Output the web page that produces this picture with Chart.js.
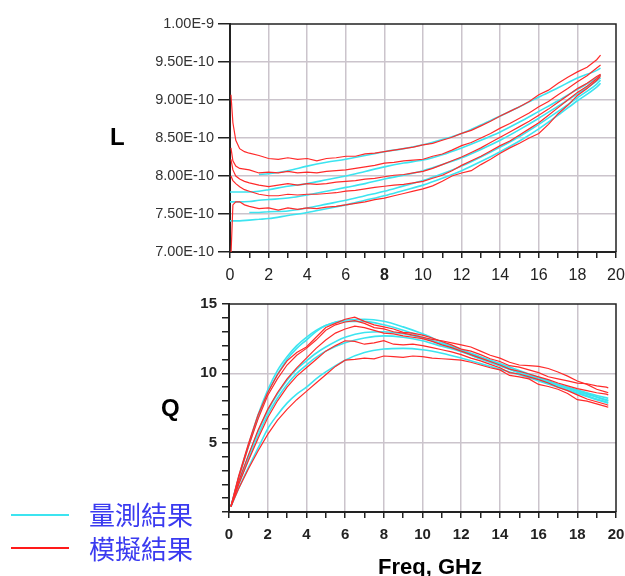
<!DOCTYPE html>
<html>
<head>
<meta charset="UTF-8">
<title>L / Q vs Freq</title>
<script src="https://cdn.jsdelivr.net/npm/chart.js"></script>
<style type="text/css">
	body { margin: 0; background: #fff; width: 625px; height: 576px; position: relative; overflow: hidden; }
	canvas { position: absolute; left: 0; }
	#chartL { top: 0; }
	#chartQ { top: 290px; }
	.lbl { position: absolute; font-family: "Liberation Sans", Arial, sans-serif; font-weight: bold; color: #000; white-space: nowrap; }
	.legLine { position: absolute; left: 11px; width: 58px; height: 2px; }
	.legText { position: absolute; left: 89px; font-family: "Noto Sans CJK TC", "Noto Sans CJK SC", sans-serif; font-size: 26px; line-height: 32px; color: #3a3af0; }
</style>
<script>
// L 圖 (單位 1E-10 H)
var fSimL = [0.05, 0.15, 0.3, 0.5, 0.75, 1, 1.5, 2, 2.5, 3, 3.5, 4, 4.5, 5, 5.5, 6, 6.5, 7, 7.5, 8, 8.5, 9, 9.5, 10,
	10.5, 11, 11.5, 12, 12.5, 13, 13.5, 14, 14.5, 15, 15.5, 16, 16.5, 17, 17.5, 18, 18.5, 19, 19.2];
var simL1 = [9.07, 8.70, 8.47, 8.36, 8.32, 8.30, 8.27, 8.23, 8.22, 8.24, 8.22, 8.23, 8.20, 8.23, 8.24, 8.26, 8.26, 8.29, 8.30, 8.32, 8.34, 8.36, 8.38, 8.41,
	8.43, 8.47, 8.51, 8.56, 8.60, 8.66, 8.72, 8.79, 8.85, 8.91, 8.98, 9.07, 9.13, 9.22, 9.30, 9.37, 9.43, 9.53, 9.59];
var simL2 = [8.37, 8.20, 8.13, 8.10, 8.09, 8.08, 8.04, 8.05, 8.04, 8.06, 8.04, 8.05, 8.04, 8.06, 8.07, 8.08, 8.10, 8.12, 8.14, 8.17, 8.18, 8.20, 8.21, 8.22,
	8.26, 8.29, 8.34, 8.40, 8.44, 8.50, 8.56, 8.63, 8.69, 8.76, 8.83, 8.91, 8.98, 9.07, 9.15, 9.24, 9.32, 9.42, 9.46];
var simL3 = [8.22, 8.08, 8.00, 7.96, 7.93, 7.91, 7.88, 7.86, 7.88, 7.90, 7.88, 7.90, 7.89, 7.90, 7.92, 7.93, 7.94, 7.96, 7.97, 7.99, 8.01, 8.02, 8.04, 8.06,
	8.10, 8.15, 8.20, 8.25, 8.31, 8.37, 8.44, 8.51, 8.58, 8.65, 8.72, 8.80, 8.88, 8.97, 9.06, 9.15, 9.22, 9.31, 9.34];
var simL4 = [8.00, 7.94, 7.90, 7.86, 7.82, 7.80, 7.76, 7.74, 7.74, 7.76, 7.75, 7.76, 7.76, 7.77, 7.78, 7.80, 7.81, 7.83, 7.85, 7.865, 7.88, 7.89, 7.91, 7.93,
	7.97, 8.01, 8.07, 8.14, 8.20, 8.26, 8.33, 8.40, 8.46, 8.54, 8.62, 8.70, 8.80, 8.90, 9.00, 9.10, 9.18, 9.28, 9.33];
var simL5 = [6.95, 7.62, 7.66, 7.66, 7.62, 7.60, 7.57, 7.58, 7.55, 7.58, 7.56, 7.58, 7.57, 7.59, 7.60, 7.62, 7.64, 7.66, 7.69, 7.71, 7.74, 7.77, 7.80, 7.83,
	7.87, 7.93, 8.00, 8.04, 8.07, 8.15, 8.22, 8.30, 8.37, 8.43, 8.50, 8.56, 8.68, 8.82, 8.93, 9.06, 9.15, 9.26, 9.31];

var fMeasL = [0, 0.5, 1, 1.5, 2, 3, 4, 5, 6, 7, 8, 9, 10, 11, 12, 13, 14, 15, 16, 17, 18, 19, 19.2];
var measL1 = [null, null, null, 8.02, 8.03, 8.07, 8.13, 8.18, 8.22, 8.27, 8.32, 8.36, 8.41, 8.48, 8.56, 8.67, 8.79, 8.91, 9.04, 9.16, 9.29, 9.39, 9.42];
var measL2 = [7.79, 7.79, 7.79, 7.80, 7.82, 7.865, 7.90, 7.95, 8.00, 8.06, 8.12, 8.17, 8.21, 8.28, 8.37, 8.47, 8.58, 8.71, 8.85, 8.99, 9.14, 9.29, 9.33];
var measL3 = [7.66, 7.66, 7.665, 7.68, 7.69, 7.71, 7.75, 7.80, 7.85, 7.90, 7.96, 8.01, 8.07, 8.15, 8.24, 8.35, 8.47, 8.61, 8.76, 8.92, 9.08, 9.25, 9.29];
var measL4 = [null, null, 7.52, 7.52, 7.53, 7.54, 7.58, 7.63, 7.68, 7.74, 7.80, 7.87, 7.94, 8.03, 8.13, 8.25, 8.38, 8.52, 8.68, 8.85, 9.03, 9.21, 9.26];
var measL5 = [7.41, 7.41, 7.42, 7.43, 7.44, 7.48, 7.52, 7.57, 7.62, 7.68, 7.74, 7.81, 7.88, 7.97, 8.07, 8.19, 8.32, 8.46, 8.62, 8.80, 8.99, 9.17, 9.22];

// Q 圖
var fSimQ = [0.1, 0.5, 1, 1.5, 2, 2.5, 3, 3.5, 4, 4.5, 5, 5.5, 6, 6.5, 7, 7.5, 8, 8.5, 9, 9.5, 10,
	10.5, 11, 11.5, 12, 12.5, 13, 13.5, 14, 14.5, 15, 15.5, 16, 16.5, 17, 17.5, 18, 18.5, 19, 19.5, 19.6];
var simQ1 = [0.4, 2.6, 4.9, 7.0, 8.6, 9.9, 10.9, 11.5, 11.9, 12.6, 13.3, 13.6, 13.9, 14.05, 13.75, 13.5, 13.35, 13.2, 12.95, 12.9, 12.75,
	12.55, 12.3, 12.05, 11.75, 11.6, 11.35, 11.05, 10.85, 10.55, 10.45, 10.25, 10.05, 9.75, 9.6, 9.45, 9.3, 9.25, 9.1, 9.0, 8.95];
var simQ2 = [0.4, 2.5, 4.7, 6.7, 8.4, 9.6, 10.6, 11.3, 11.8, 12.4, 13.1, 13.5, 13.7, 13.8, 13.6, 13.3, 13.2, 13.0, 12.9, 12.75, 12.6,
	12.45, 12.35, 12.2, 12.05, 11.9, 11.6, 11.3, 11.1, 10.8, 10.6, 10.55, 10.5, 10.35, 10.1, 9.8, 9.45, 9.2, 8.85, 8.65, 8.6];
var simQ3 = [0.4, 2.2, 4.1, 5.9, 7.4, 8.6, 9.6, 10.4, 11.1, 11.8, 12.4, 12.9, 13.2, 13.4, 13.3, 13.1, 12.9, 12.85, 12.7, 12.6, 12.5,
	12.3, 12.05, 11.85, 11.6, 11.35, 11.1, 10.85, 10.6, 10.3, 10.15, 9.95, 9.75, 9.55, 9.3, 9.1, 8.9, 8.75, 8.6, 8.5, 8.45];
var simQ4 = [0.4, 2.0, 3.7, 5.3, 6.8, 8.0, 9.0, 9.8, 10.4, 11.0, 11.6, 12.0, 12.35, 12.3, 12.1, 12.2, 12.35, 12.1, 12.05, 12.1, 12.0,
	11.85, 11.7, 11.55, 11.35, 11.1, 10.9, 10.65, 10.4, 10.05, 9.95, 9.75, 9.55, 9.3, 9.0, 8.75, 8.45, 8.15, 7.95, 7.75, 7.7];
var simQ5 = [0.4, 1.7, 3.1, 4.4, 5.6, 6.6, 7.4, 8.1, 8.7, 9.3, 9.9, 10.5, 10.95, 11.0, 11.1, 11.05, 11.25, 11.2, 11.15, 11.25, 11.2,
	11.1, 11.05, 11.0, 10.95, 10.8, 10.6, 10.4, 10.25, 9.85, 9.75, 9.6, 9.2, 9.05, 8.85, 8.55, 8.1, 8.0, 7.8, 7.6, 7.55];

var fMeasQ = [0.1, 0.5, 1, 1.5, 2, 2.5, 3, 3.5, 4, 4.5, 5, 6, 7, 8, 9, 10, 11, 12, 13, 14, 15, 16, 17, 18, 19, 19.6];
var measQ1 = [0.4, 2.4, 4.7, 6.8, 8.6, 9.9, 11.0, 11.8, 12.4, 13.0, 13.45, 13.85, 13.9, 13.75, 13.35, 12.85, 12.25, 11.7, 11.15, 10.6, 10.1, 9.65, 9.2, 8.8, 8.4, 8.2];
var measQ2 = [0.4, 2.5, 4.8, 7.0, 8.8, 10.2, 11.2, 12.0, 12.6, 13.1, 13.45, 13.75, 13.75, 13.5, 13.1, 12.6, 12.1, 11.6, 11.05, 10.55, 10.05, 9.6, 9.15, 8.7, 8.3, 8.05];
var measQ3 = [0.4, 2.1, 4.0, 5.8, 7.3, 8.5, 9.5, 10.3, 10.9, 11.45, 11.9, 12.6, 12.95, 13.0, 12.85, 12.55, 12.15, 11.7, 11.2, 10.7, 10.2, 9.7, 9.2, 8.75, 8.3, 8.0];
var measQ4 = [0.4, 2.0, 3.8, 5.5, 7.0, 8.2, 9.2, 10.0, 10.6, 11.15, 11.6, 12.2, 12.55, 12.7, 12.6, 12.35, 11.95, 11.55, 11.05, 10.55, 10.05, 9.55, 9.05, 8.6, 8.15, 7.9];
var measQ5 = [0.4, 1.7, 3.2, 4.6, 6.0, 7.0, 7.85, 8.5, 9.0, 9.6, 10.1, 10.95, 11.5, 11.75, 11.8, 11.7, 11.45, 11.1, 10.7, 10.3, 9.9, 9.45, 9.0, 8.55, 8.1, 7.85];

var CYAN = '#3ce4f0';
var RED = '#ff2a2a';
var GRID = '#cbc4cc';
var AXIS = '#222';

function pts(xs, ys) {
	return xs.map(function(x, i) { return { x: x, y: ys[i] }; });
}
function meas(xs, ys) {
	return { data: pts(xs, ys), borderColor: CYAN, borderWidth: 1.6, cubicInterpolationMode: 'monotone', spanGaps: false, order: 2 };
}
function sim(xs, ys) {
	return { data: pts(xs, ys), borderColor: RED, borderWidth: 1.2, tension: 0, order: 1 };
}

// 外框 (上、右)
var frame = {
	id: 'frame',
	afterDatasetsDraw: function(chart) {
		var a = chart.chartArea, c = chart.ctx;
		c.save();
		c.strokeStyle = AXIS;
		c.lineWidth = 1.5;
		c.beginPath();
		c.moveTo(a.left, a.top);
		c.lineTo(a.right, a.top);
		c.lineTo(a.right, a.bottom);
		c.stroke();
		c.restore();
	}
};

var baseOpts = {
	responsive: false,
	animation: false,
	plugins: { legend: { display: false }, tooltip: { enabled: false } },
	elements: { point: { radius: 0 } }
};

window.onload = function() {
	var fontFam = '"Liberation Sans", Arial, sans-serif';

	new Chart(document.getElementById('chartL'), {
		type: 'line',
		data: {
			datasets: [
				meas(fMeasL, measL1), meas(fMeasL, measL2), meas(fMeasL, measL3), meas(fMeasL, measL4), meas(fMeasL, measL5),
				sim(fSimL, simL1), sim(fSimL, simL2), sim(fSimL, simL3), sim(fSimL, simL4), sim(fSimL, simL5)
			]
		},
		options: Object.assign({}, baseOpts, {
			layout: { padding: { left: 150, right: 9, top: 24, bottom: 0 } },
			scales: {
				x: {
					type: 'linear', min: 0, max: 20,
					afterFit: function(s) { s.height = 38; s.paddingLeft = 0; s.paddingRight = 0; },
					ticks: {
						stepSize: 1, autoSkip: false, maxRotation: 0, padding: 8, color: '#222',
						font: function(ctx) { return { family: fontFam, size: 16, weight: (ctx.tick && ctx.tick.value === 8) ? 'bold' : 'normal' }; },
						callback: function(v) { return v % 2 === 0 ? v : ''; }
					},
					grid: {
						tickLength: 6, tickColor: AXIS, lineWidth: 1.5,
						color: function(ctx) { return (ctx.tick && ctx.tick.value % 2 === 0 && ctx.tick.value > 0 && ctx.tick.value < 20) ? GRID : 'rgba(0,0,0,0)'; }
					},
					border: { color: AXIS, width: 2 }
				},
				y: {
					min: 7, max: 10,
					afterFit: function(s) { s.width = 80; },
					ticks: {
						stepSize: 0.5, padding: 4, color: '#333',
						font: { family: fontFam, size: 14.5 },
						callback: function(v) { return v === 10 ? '1.00E-9' : v.toFixed(2) + 'E-10'; }
					},
					grid: {
						tickLength: 12, tickColor: AXIS, lineWidth: 1.5,
						color: function(ctx) { return (ctx.tick && ctx.tick.value > 7 && ctx.tick.value < 10) ? GRID : 'rgba(0,0,0,0)'; }
					},
					border: { color: AXIS, width: 2 }
				}
			}
		}),
		plugins: [frame]
	});

	new Chart(document.getElementById('chartQ'), {
		type: 'line',
		data: {
			datasets: [
				meas(fMeasQ, measQ1), meas(fMeasQ, measQ2), meas(fMeasQ, measQ3), meas(fMeasQ, measQ4), meas(fMeasQ, measQ5),
				sim(fSimQ, simQ1), sim(fSimQ, simQ2), sim(fSimQ, simQ3), sim(fSimQ, simQ4), sim(fSimQ, simQ5)
			]
		},
		options: Object.assign({}, baseOpts, {
			layout: { padding: { left: 150, right: 9, top: 7, bottom: 0 } },
			scales: {
				x: {
					type: 'linear', min: 0, max: 20,
					afterFit: function(s) { s.height = 64; s.paddingLeft = 0; s.paddingRight = 0; },
					ticks: {
						stepSize: 1, autoSkip: false, maxRotation: 0, padding: 8, color: '#222',
						font: { family: fontFam, size: 15, weight: 'bold' },
						callback: function(v) { return v % 2 === 0 ? v : ''; }
					},
					grid: {
						tickLength: 6, tickColor: AXIS, lineWidth: 1.5,
						color: function(ctx) { return (ctx.tick && ctx.tick.value % 2 === 0 && ctx.tick.value > 0 && ctx.tick.value < 20) ? GRID : 'rgba(0,0,0,0)'; }
					},
					border: { color: AXIS, width: 2 }
				},
				y: {
					min: 0, max: 15,
					afterFit: function(s) { s.width = 79; },
					ticks: {
						stepSize: 1, autoSkip: false, padding: 5, color: '#222',
						font: { family: fontFam, size: 15, weight: 'bold' },
						callback: function(v) { return (v % 5 === 0 && v > 0) ? v : ''; }
					},
					grid: {
						tickLength: 7, tickColor: AXIS, lineWidth: 1.5,
						color: function(ctx) { return (ctx.tick && ctx.tick.value % 5 === 0 && ctx.tick.value > 0 && ctx.tick.value < 15) ? GRID : 'rgba(0,0,0,0)'; }
					},
					border: { color: AXIS, width: 2 }
				}
			}
		}),
		plugins: [frame]
	});
};
</script>
</head>
<body>
	<canvas id="chartL" width="625" height="290"></canvas>
	<canvas id="chartQ" width="625" height="286"></canvas>

	<div class="lbl" style="left:110px; top:123px; font-size:24px; line-height:28px;">L</div>
	<div class="lbl" style="left:161px; top:394px; font-size:24px; line-height:28px;">Q</div>
	<div class="lbl" style="left:378px; top:553px; font-size:22px; line-height:28px;">Freq, GHz</div>

	<div class="legLine" style="top:514px; background:#3ce4f0;"></div>
	<div class="legText" style="top:498px;">量測結果</div>
	<div class="legLine" style="top:547px; background:#ff1a1a;"></div>
	<div class="legText" style="top:532px;">模擬結果</div>
</body>
</html>
